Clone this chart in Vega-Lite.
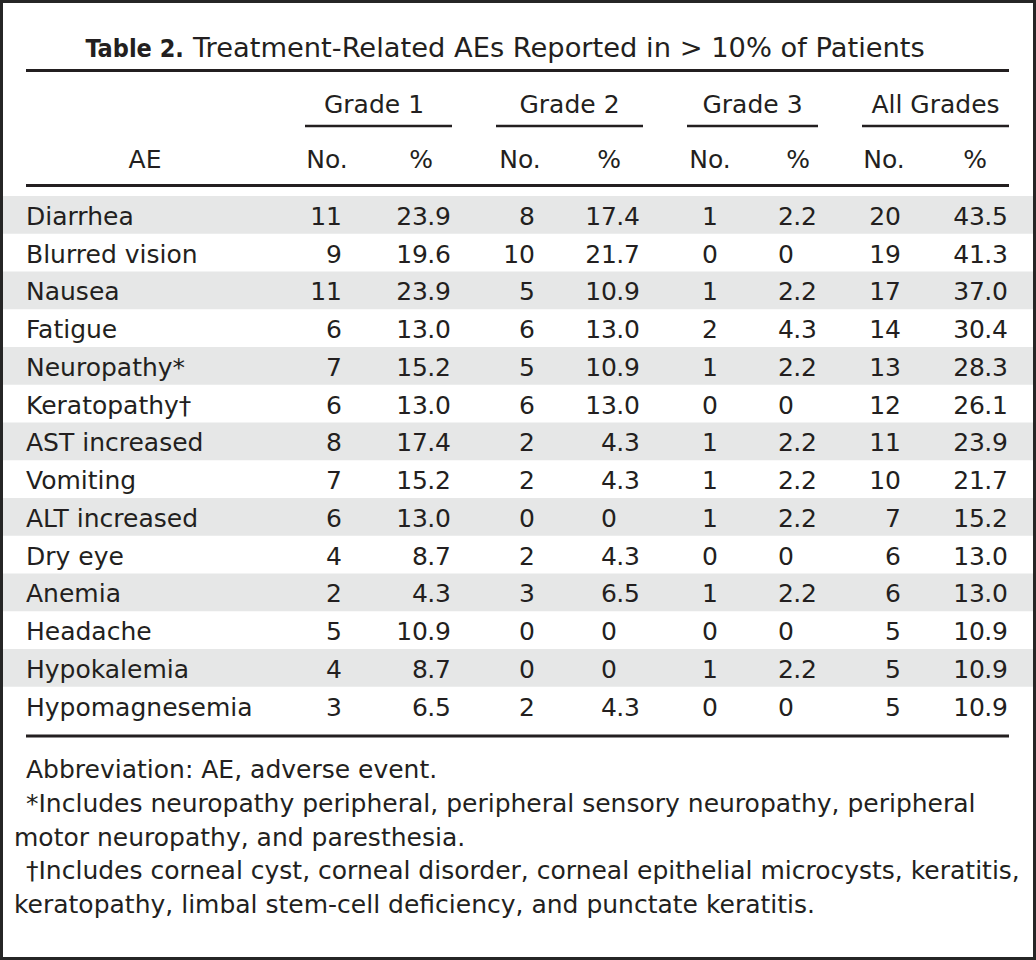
{
  "$schema": "https://vega.github.io/schema/vega-lite/v6.json",
  "width": 1036,
  "height": 960,
  "padding": 0,
  "autosize": {"type": "none"},
  "background": "#ffffff",
  "config": {
    "axis": {"disable": true},
    "view": {"stroke": "#262626", "strokeWidth": 6},
    "text": {"font": "DejaVu Sans", "fontSize": 25, "color": "#231f20"},
    "rule": {"color": "#231f20"}
  },
  "datasets": {
    "rows": [
      {"AE": "Diarrhea", "g1n": 11, "g1p": 23.9, "g2n": 8, "g2p": 17.4, "g3n": 1, "g3p": 2.2, "alln": 20, "allp": 43.5},
      {"AE": "Blurred vision", "g1n": 9, "g1p": 19.6, "g2n": 10, "g2p": 21.7, "g3n": 0, "g3p": 0, "alln": 19, "allp": 41.3},
      {"AE": "Nausea", "g1n": 11, "g1p": 23.9, "g2n": 5, "g2p": 10.9, "g3n": 1, "g3p": 2.2, "alln": 17, "allp": 37.0},
      {"AE": "Fatigue", "g1n": 6, "g1p": 13.0, "g2n": 6, "g2p": 13.0, "g3n": 2, "g3p": 4.3, "alln": 14, "allp": 30.4},
      {"AE": "Neuropathy*", "g1n": 7, "g1p": 15.2, "g2n": 5, "g2p": 10.9, "g3n": 1, "g3p": 2.2, "alln": 13, "allp": 28.3},
      {"AE": "Keratopathy†", "g1n": 6, "g1p": 13.0, "g2n": 6, "g2p": 13.0, "g3n": 0, "g3p": 0, "alln": 12, "allp": 26.1},
      {"AE": "AST increased", "g1n": 8, "g1p": 17.4, "g2n": 2, "g2p": 4.3, "g3n": 1, "g3p": 2.2, "alln": 11, "allp": 23.9},
      {"AE": "Vomiting", "g1n": 7, "g1p": 15.2, "g2n": 2, "g2p": 4.3, "g3n": 1, "g3p": 2.2, "alln": 10, "allp": 21.7},
      {"AE": "ALT increased", "g1n": 6, "g1p": 13.0, "g2n": 0, "g2p": 0, "g3n": 1, "g3p": 2.2, "alln": 7, "allp": 15.2},
      {"AE": "Dry eye", "g1n": 4, "g1p": 8.7, "g2n": 2, "g2p": 4.3, "g3n": 0, "g3p": 0, "alln": 6, "allp": 13.0},
      {"AE": "Anemia", "g1n": 2, "g1p": 4.3, "g2n": 3, "g2p": 6.5, "g3n": 1, "g3p": 2.2, "alln": 6, "allp": 13.0},
      {"AE": "Headache", "g1n": 5, "g1p": 10.9, "g2n": 0, "g2p": 0, "g3n": 0, "g3p": 0, "alln": 5, "allp": 10.9},
      {"AE": "Hypokalemia", "g1n": 4, "g1p": 8.7, "g2n": 0, "g2p": 0, "g3n": 1, "g3p": 2.2, "alln": 5, "allp": 10.9},
      {"AE": "Hypomagnesemia", "g1n": 3, "g1p": 6.5, "g2n": 2, "g2p": 4.3, "g3n": 0, "g3p": 0, "alln": 5, "allp": 10.9}
    ],
    "groups": [{"group": "Grade 1"}, {"group": "Grade 2"}, {"group": "Grade 3"}, {"group": "All Grades"}],
    "subheads": [{"label": "AE"}, {"label": "No."}, {"label": "%"}, {"label": "No."}, {"label": "%"}, {"label": "No."}, {"label": "%"}, {"label": "No."}, {"label": "%"}],
    "notes": [
      {"note": 1, "text": "Abbreviation: AE, adverse event."},
      {"note": 2, "text": "*Includes neuropathy peripheral, peripheral sensory neuropathy, peripheral"},
      {"note": 2, "text": "motor neuropathy, and paresthesia."},
      {"note": 3, "text": "†Includes corneal cyst, corneal disorder, corneal epithelial microcysts, keratitis,"},
      {"note": 3, "text": "keratopathy, limbal stem-cell deficiency, and punctate keratitis."}
    ],
    "title": [{"bold": "Table 2.", "rest": "Treatment-Related AEs Reported in > 10% of Patients"}]
  },
  "layer": [
    {
      "data": {"name": "rows"},
      "transform": [
        {"window": [{"op": "row_number", "as": "rn"}]},
        {"calculate": "datum.rn - 1", "as": "r"},
        {"calculate": "datum.rn", "as": "r1"},
        {"filter": "datum.r % 2 == 0"}
      ],
      "mark": {"type": "rect", "color": "#e6e7e7"},
      "encoding": {
        "x": {"datum": -0.5, "type": "quantitative", "scale": {"type": "linear", "domain": [-0.5,-0.25,0,0.5,1,1.5,1.75,1.9,2.5,2.75,2.8,3,3.5,3.75,3.9,4.5,4.75,4.8,5,5.5,5.75,5.9,6.5,6.75,6.8,7,7.5,7.75,7.9,8.5,8.75,8.8,9.5], "range": [3,14,26,145,305,327,342,374,421,451,452,496,520,535,569.5,609,640,643,687,710,718,752.5,798,817,818,862,884,901,935.5,975,1008,1009,1033], "nice": false, "zero": false}},
        "x2": {"datum": 9.5},
        "y": {"field": "r", "type": "quantitative", "scale": {"type": "linear", "domain": [-5,-4,-3,-2.5,-1.5,-1,0,14,14.5,15,19], "range": [56.5,70.5,113,126,168,185.5,196,724.5,736,778,913], "nice": false, "zero": false}},
        "y2": {"field": "r1"}
      }
    },
    {
      "data": {"name": "title"},
      "mark": {"type": "rule", "strokeWidth": 3},
      "encoding": {
        "x": {"datum": 0, "type": "quantitative"},
        "x2": {"datum": 8.8},
        "y": {"datum": -4, "type": "quantitative"}
      }
    },
    {
      "data": {"name": "title"},
      "mark": {"type": "rule", "strokeWidth": 3},
      "encoding": {
        "x": {"datum": 0, "type": "quantitative"},
        "x2": {"datum": 8.8},
        "y": {"datum": -1, "type": "quantitative"}
      }
    },
    {
      "data": {"name": "title"},
      "mark": {"type": "rule", "strokeWidth": 3},
      "encoding": {
        "x": {"datum": 0, "type": "quantitative"},
        "x2": {"datum": 8.8},
        "y": {"datum": 14.5, "type": "quantitative"}
      }
    },
    {
      "data": {"name": "title"},
      "mark": {"type": "text", "align": "right", "baseline": "alphabetic", "dx": -4, "font": "DejaVu Sans Condensed, DejaVu Sans", "fontWeight": "bold", "fontSize": 25},
      "encoding": {
        "x": {"datum": 0.634, "type": "quantitative"},
        "y": {"datum": -5, "type": "quantitative"},
        "text": {"field": "bold"}
      }
    },
    {
      "data": {"name": "title"},
      "mark": {"type": "text", "align": "left", "baseline": "alphabetic", "dx": 5, "fontSize": 27.3},
      "encoding": {
        "x": {"datum": 0.634, "type": "quantitative"},
        "y": {"datum": -5, "type": "quantitative"},
        "text": {"field": "rest"}
      }
    },
    {
      "data": {"name": "groups"},
      "transform": [
        {"window": [{"op": "row_number", "as": "rn"}]},
        {"calculate": "2 * (datum.rn - 1) + 1", "as": "gx1"},
        {"calculate": "2 * (datum.rn - 1) + 2.8", "as": "gx2"}
      ],
      "mark": {"type": "rule", "strokeWidth": 2.5},
      "encoding": {
        "x": {"field": "gx1", "type": "quantitative"},
        "x2": {"field": "gx2"},
        "y": {"datum": -2.5, "type": "quantitative"}
      }
    },
    {
      "data": {"name": "groups"},
      "transform": [
        {"window": [{"op": "row_number", "as": "rn"}]},
        {"calculate": "2 * (datum.rn - 1) + 1.9", "as": "gc"}
      ],
      "mark": {"type": "text", "align": "center", "baseline": "alphabetic"},
      "encoding": {
        "x": {"field": "gc", "type": "quantitative"},
        "y": {"datum": -3, "type": "quantitative"},
        "text": {"field": "group"}
      }
    },
    {
      "data": {"name": "subheads"},
      "transform": [
        {"window": [{"op": "row_number", "as": "rn"}]},
        {"calculate": "datum.rn - 0.5", "as": "c"}
      ],
      "mark": {"type": "text", "align": "center", "baseline": "alphabetic"},
      "encoding": {
        "x": {"field": "c", "type": "quantitative"},
        "y": {"datum": -1.5, "type": "quantitative"},
        "text": {"field": "label"}
      }
    },
    {
      "data": {"name": "rows"},
      "transform": [
        {"window": [{"op": "row_number", "as": "rn"}]},
        {"calculate": "datum.rn - 0.5", "as": "rc"}
      ],
      "mark": {"type": "text", "align": "left", "baseline": "alphabetic", "dy": 10},
      "encoding": {
        "x": {"datum": 0, "type": "quantitative"},
        "y": {"field": "rc", "type": "quantitative"},
        "text": {"field": "AE"}
      }
    },
    {
      "data": {"name": "rows"},
      "transform": [
        {"window": [{"op": "row_number", "as": "rn"}]},
        {"calculate": "datum.rn - 0.5", "as": "rc"},
        {"fold": ["g1n", "g1p", "g2n", "g2p", "g3n", "g3p", "alln", "allp"], "as": ["key", "value"]},
        {"calculate": "indexof(['g1n','g1p','g2n','g2p','g3n','g3p','alln','allp'], datum.key) + 1", "as": "j"},
        {"filter": "datum.j % 2 == 1"},
        {"calculate": "datum.j + 0.75", "as": "xr"}
      ],
      "mark": {"type": "text", "align": "right", "baseline": "alphabetic", "dy": 10},
      "encoding": {
        "x": {"field": "xr", "type": "quantitative"},
        "y": {"field": "rc", "type": "quantitative"},
        "text": {"field": "value"}
      }
    },
    {
      "data": {"name": "rows"},
      "transform": [
        {"window": [{"op": "row_number", "as": "rn"}]},
        {"calculate": "datum.rn - 0.5", "as": "rc"},
        {"fold": ["g1n", "g1p", "g2n", "g2p", "g3n", "g3p", "alln", "allp"], "as": ["key", "value"]},
        {"calculate": "indexof(['g1n','g1p','g2n','g2p','g3n','g3p','alln','allp'], datum.key) + 1", "as": "j"},
        {"filter": "datum.j % 2 == 0"},
        {"calculate": "datum.j + 0.75", "as": "xr"},
        {"calculate": "datum.value == 0 ? '0' : format(datum.value, '.1f')", "as": "s"},
        {"calculate": "indexof(datum.s, '.') < 0 ? datum.s : slice(datum.s, 0, indexof(datum.s, '.'))", "as": "ip"}
      ],
      "mark": {"type": "text", "align": "right", "baseline": "alphabetic", "dy": 10, "dx": -23},
      "encoding": {
        "x": {"field": "xr", "type": "quantitative"},
        "y": {"field": "rc", "type": "quantitative"},
        "text": {"field": "ip"}
      }
    },
    {
      "data": {"name": "rows"},
      "transform": [
        {"window": [{"op": "row_number", "as": "rn"}]},
        {"calculate": "datum.rn - 0.5", "as": "rc"},
        {"fold": ["g1n", "g1p", "g2n", "g2p", "g3n", "g3p", "alln", "allp"], "as": ["key", "value"]},
        {"calculate": "indexof(['g1n','g1p','g2n','g2p','g3n','g3p','alln','allp'], datum.key) + 1", "as": "j"},
        {"filter": "datum.j % 2 == 0"},
        {"calculate": "datum.j + 0.75", "as": "xr"},
        {"calculate": "datum.value == 0 ? '0' : format(datum.value, '.1f')", "as": "s"},
        {"calculate": "indexof(datum.s, '.') < 0 ? '' : slice(datum.s, indexof(datum.s, '.'))", "as": "fp"}
      ],
      "mark": {"type": "text", "align": "right", "baseline": "alphabetic", "dy": 10},
      "encoding": {
        "x": {"field": "xr", "type": "quantitative"},
        "y": {"field": "rc", "type": "quantitative"},
        "text": {"field": "fp"}
      }
    },
    {
      "data": {"name": "notes"},
      "transform": [
        {"window": [{"op": "row_number", "as": "rn"}]},
        {"window": [{"op": "row_number", "as": "k"}], "groupby": ["note"]},
        {"calculate": "14 + datum.rn", "as": "ln"},
        {"calculate": "datum.k == 1 ? 0 : -0.25", "as": "lx"}
      ],
      "mark": {"type": "text", "align": "left", "baseline": "alphabetic"},
      "encoding": {
        "x": {"field": "lx", "type": "quantitative"},
        "y": {"field": "ln", "type": "quantitative"},
        "text": {"field": "text"}
      }
    }
  ]
}
